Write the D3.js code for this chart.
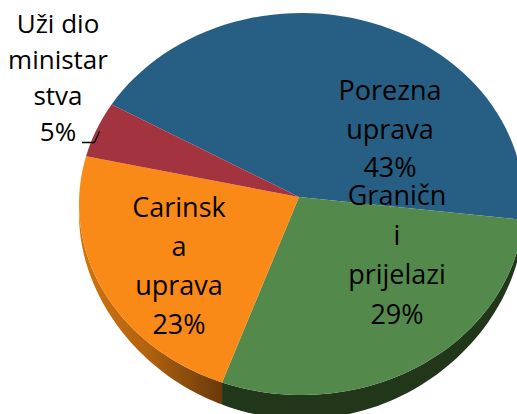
<!DOCTYPE html>
<html><head><meta charset="utf-8">
<script src="https://cdn.jsdelivr.net/npm/d3@7"></script>
<style>html,body{margin:0;padding:0;background:#fff}svg{display:block}</style>
</head><body><svg id="c" width="517" height="414"></svg>
<script>
const categories = ["Porezna uprava", "Granični prijelazi", "Carinska uprava", "Uži dio ministarstva"];
const shares = [42.6, 29.49, 23.2, 4.71];
const labelLines = [["Porezna","uprava"],["Graničn","i","prijelazi"],["Carinsk","a","uprava"],["Uži dio","ministar","stva"]];
const colors = ["#265f83","#538a4b","#fa8a17","#a43340"];
const wallColors = ["#183c52","#22361a","url(#orangeWall)","#5e1d25"];
const labelFontSizes = [27,27,27,26];

const W=517,H=414;
const svg=d3.select("#c").attr("viewBox",[0,0,W,H]);
const x=d3.scaleLinear([-1,1],[79,524]);
const y=d3.scaleLinear([-1,1],[13,395]);
const apex=[299,197];
const startDeg=-58.6;
const rad=d=>d*Math.PI/180;
const pie=d3.pie().sort(null).startAngle(rad(startDeg)).endAngle(rad(startDeg+360));
const arcs=pie(shares);
const rim=(a,wall=false)=>{
  const c=Math.cos(a);
  return [x(Math.sin(a)),y(-c)+(wall?10+14*c*c:0)];
};
const samples=(a0,a1,wall=false)=>d3.range(0,61).map(i=>rim(a0+(a1-a0)*i/60,wall));
const line=d3.line();

const defs=svg.append("defs");
const g=defs.append("linearGradient").attr("id","orangeWall").attr("gradientUnits","userSpaceOnUse")
  .attr("x1",80).attr("y1",0).attr("x2",222).attr("y2",0);
g.append("stop").attr("offset",0).attr("stop-color","#d0750f");
g.append("stop").attr("offset",0.45).attr("stop-color","#b4640f");
g.append("stop").attr("offset",1).attr("stop-color","#693a0a");

// side wall, only where the rim faces the viewer
svg.append("g").selectAll("path").data(arcs).join("path")
  .attr("fill",(d,i)=>wallColors[i])
  .attr("d",d=>{
    const a0=Math.max(d.startAngle,rad(90)),a1=Math.min(d.endAngle,rad(270));
    if(a1<=a0) return null;
    return line([...samples(a0,a1,false),...samples(a1,a0,true)])+"Z";
  });

// top faces
svg.append("g").selectAll("path").data(arcs).join("path")
  .attr("fill",(d,i)=>colors[i])
  .attr("d",d=>line([apex,...samples(d.startAngle,d.endAngle)])+"Z");

// labels
const labelAnchors=[[390,100],[397,205],[179,217],[58,33]];
const lineGap=[38.5,39.5,39,36];
const t=svg.append("g").attr("font-family","'Open Sans',sans-serif").attr("fill","#000").attr("text-anchor","middle");
arcs.forEach((d,i)=>{
  const lines=[...labelLines[i],Math.round(d.value)+"%"];
  t.append("g").attr("font-size",labelFontSizes[i]).selectAll("text").data(lines).join("text")
    .attr("x",labelAnchors[i][0])
    .attr("y",(s,k)=>labelAnchors[i][1]+k*lineGap[i])
    .text(s=>s);
});

// leader line
svg.append("path").attr("fill","none").attr("stroke","#000").attr("stroke-width",1.3)
  .attr("d",line([[82,142.5],[94.5,142.5],[99.5,131.5]]));
</script></body></html>
